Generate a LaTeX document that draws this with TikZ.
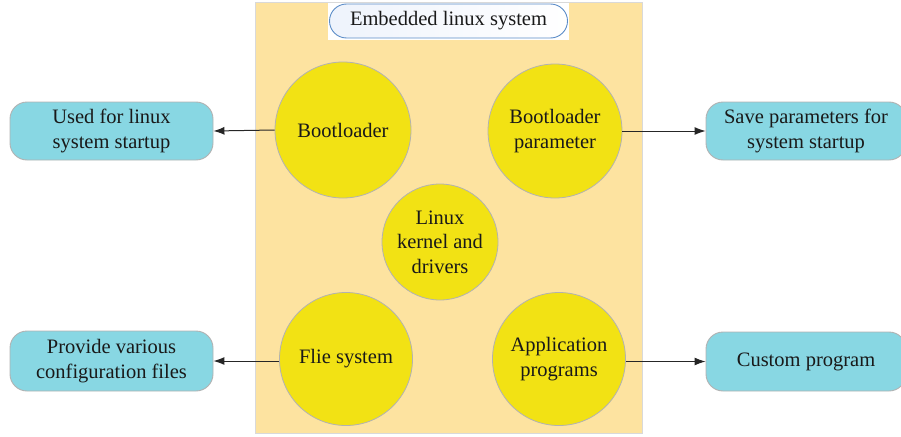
\documentclass[tikz,border=0pt]{standalone}
\usepackage{fontspec}
\setmainfont{Liberation Serif}
\usetikzlibrary{arrows.meta,shapes.geometric}
\definecolor{bgyel}{HTML}{FDE3A0}
\definecolor{circyel}{HTML}{F2E214}
\definecolor{boxcyan}{HTML}{88D7E3}
\definecolor{pillblue}{HTML}{5B8CC8}
\definecolor{pillfill}{HTML}{EEF3FC}
\begin{document}
\begin{tikzpicture}[x=1pt,y=-1pt,
  every node/.style={font=\fontsize{20.5}{24.5}\selectfont, text=black!90, align=center},
  bubble/.style={circle, draw=black!30, line width=0.8pt, fill=circyel, inner sep=0pt},
  infobox/.style={draw=black!30, line width=0.9pt, fill=boxcyan, rounded corners=17pt, inner sep=0pt},
  conn/.style={-{Latex[length=11pt,width=8pt]}, line width=1pt, black!85}]
\useasboundingbox (0,0) rectangle (901,436);
% background panel
\node[draw=black!15, line width=1pt, fill=bgyel, minimum width=387pt, minimum height=430pt, inner sep=0pt] (panel) at (448.5,218) {};
% title
\fill[white] (328,3) rectangle (569,40);
\node[draw=pillblue, line width=0.9pt, left color=pillfill, right color=white, rounded corners=17pt, minimum width=238pt, minimum height=34pt, inner sep=0pt] (title) at (448.5,21) {Embedded linux system};
% circles
\node[bubble, minimum size=136pt] (boot) at (343,130) {Bootloader};
\node[bubble, minimum size=134pt] (bparam) at (555,131) {Bootloader\\parameter};
\node[bubble, minimum size=116pt] (kernel) at (440,242) {Linux\\kernel and\\drivers};
\node[bubble, minimum size=133pt] (fs) at (346,359) {Flie system};
\node[bubble, minimum size=133pt] (app) at (559,359) {Application\\programs};
% boxes
\node[infobox, minimum width=203pt, minimum height=58pt] (used) at (111.5,131) {Used for linux\\system startup};
\node[infobox, minimum width=203pt, minimum height=60pt] (prov) at (111.5,361) {Provide various\\configuration files};
\node[infobox, minimum width=200pt, minimum height=58pt] (save) at (806,131) {Save parameters for\\system startup};
\node[infobox, minimum width=200pt, minimum height=59pt] (cust) at (806,361.5) {Custom program};
% connectors
\draw[conn] (boot.west) -- (used.east);
\draw[conn] (bparam.east) -- (save.west);
\draw[conn] (fs.west |- prov.east) -- (prov.east);
\draw[conn] (app.east |- cust.west) -- (cust.west);
\end{tikzpicture}
\end{document}
